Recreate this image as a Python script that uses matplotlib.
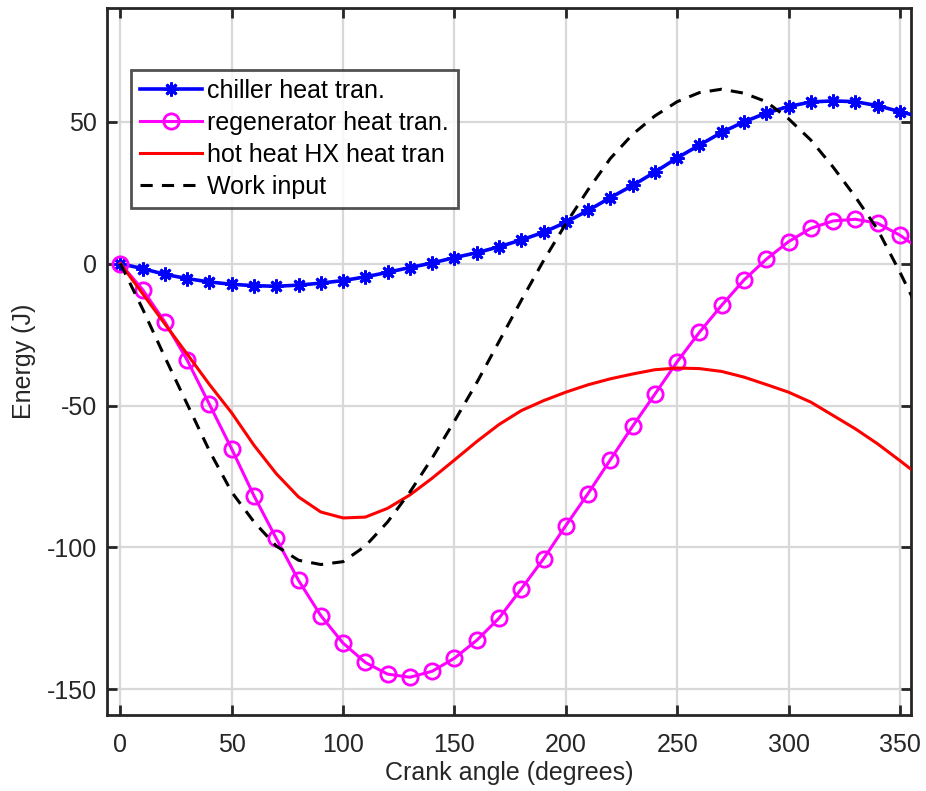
import matplotlib
matplotlib.use("Agg")
import matplotlib.pyplot as plt
import numpy as np

plt.rcParams['font.family'] = ['Liberation Sans', 'DejaVu Sans']
plt.rcParams['axes.unicode_minus'] = False

angle = list(range(0, 361, 10))

chiller = [0, -1.8, -3.8, -5.3, -6.5, -7.3, -7.8, -8.0, -7.6, -6.9, -6.0, -4.7, -3.1,
           -1.4, 0.2, 2.1, 3.8, 5.9, 8.3, 11.0, 14.5, 18.7, 23.2, 27.5, 32.2, 37.2,
           41.7, 46.2, 49.9, 53.0, 55.3, 56.9, 57.3, 57.0, 55.6, 53.5, 51.5]

regenerator = [0, -9.2, -20.6, -34.0, -49.6, -65.3, -81.8, -96.8, -111.6, -124.0,
               -133.7, -140.5, -144.6, -145.7, -143.6, -139.0, -132.7, -124.9, -114.6,
               -104.0, -92.3, -81.0, -69.1, -57.3, -46.0, -34.6, -24.2, -14.7, -5.8,
               1.5, 7.7, 12.4, 15.0, 15.6, 14.2, 10.0, 4.5]

hot_hx = [0, -10.6, -21.3, -31.9, -42.6, -52.6, -64.0, -74.0, -82.2, -87.5, -89.6,
          -89.3, -86.2, -81.5, -75.6, -69.2, -62.7, -56.7, -51.8, -48.3, -45.3, -42.7,
          -40.6, -38.9, -37.4, -36.8, -37.0, -38.0, -40.0, -42.6, -45.3, -48.8, -53.5,
          -58.2, -63.5, -69.4, -75.5]

work = [0, -16, -33, -49.5, -66, -80.5, -91, -99.5, -104.5, -106, -105, -99.5, -91,
        -80.5, -68.5, -55.5, -42, -27.5, -13, 1, 14, 26, 37, 45.5, 52, 57, 60.2, 61.4,
        60, 57, 51, 43.5, 34, 23.5, 12, -3, -19]

labels = ['chiller heat tran.', 'regenerator heat tran.', 'hot heat HX heat tran', 'Work input']
xticks = [0, 50, 100, 150, 200, 250, 300, 350]
yticks = [-150, -100, -50, 0, 50]

fig = plt.figure(figsize=(9.26, 7.91), dpi=100)
ax = fig.add_axes([107/926, 1-715/791, 804/926, 707/791])

ax.plot(angle, chiller, color='#0000ff', lw=2.6, marker=(8, 2, 0), ms=10, mew=2.0,
        label=labels[0], zorder=3)
ax.plot(angle, regenerator, color='#ff00ff', lw=2.2, marker='o', ms=11, mew=2.0,
        mfc='none', label=labels[1], zorder=3)
ax.plot(angle, hot_hx, color='#ff0000', lw=2.2, label=labels[2], zorder=3)
ax.plot(angle, work, color='black', lw=2.2, ls=(0, (4, 3)), label=labels[3], zorder=3)

ax.set_xlim(-6, 355)
ax.set_ylim(-159, 90)
ax.set_xticks(xticks)
ax.set_yticks(yticks)
ax.grid(True, color='#d8d8d8', lw=1.6)
ax.set_axisbelow(True)
for s in ax.spines.values():
    s.set_linewidth(2.0)
    s.set_color('#262626')
ax.tick_params(direction='in', length=7, width=2, colors='#262626', labelsize=18,
               top=True, right=True)
ax.tick_params(axis='x', pad=13)
ax.tick_params(axis='y', pad=7)
ax.set_xlabel('Crank angle (degrees)', fontsize=18, color='#262626', labelpad=3)
ax.set_ylabel('Energy (J)', fontsize=18, color='#262626', labelpad=8)

leg = ax.legend(loc='upper left', bbox_to_anchor=(131/926, 1-70/791),
                bbox_transform=fig.transFigure, fontsize=18, frameon=True,
                fancybox=False, edgecolor='#262626', handlelength=2.5,
                handletextpad=0.2, labelspacing=0.32, borderpad=0.35,
                borderaxespad=0)
leg.get_frame().set_linewidth(2.0)

fig.savefig('out.png', dpi=100)
